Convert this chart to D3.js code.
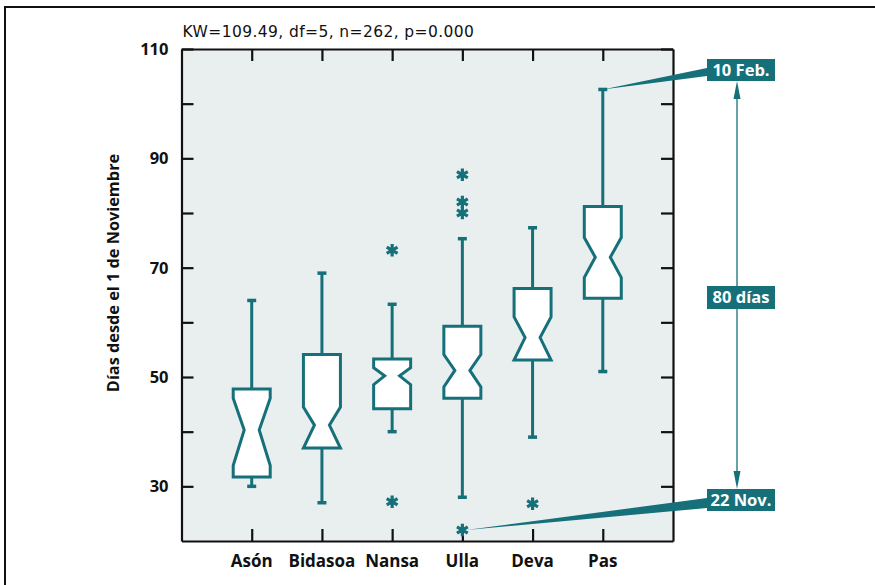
<!DOCTYPE html>
<html lang="es">
  <head>
    <meta charset="utf-8">
    <title>Boxplot ríos</title>
    <script src="https://d3js.org/d3.v7.js"></script>
    <style>
      body { margin: 0; background: #fff; }
      text { font-family: "Open Sans", sans-serif; }
      text.title { font-family: "DejaVu Sans", sans-serif; }
    </style>
  </head>
  <body>
    <script type="text/javascript">

      // data (days since 1 November)
      const rivers    = ["Asón", "Bidasoa", "Nansa", "Ulla", "Deva", "Pas"];
      const whiskerLo = [30, 27, 40, 28, 39, 51];
      const q1        = [31.7, 37, 44.2, 46.1, 53.1, 64.4];
      const notchLo   = [33.8, 37, 48.6, 48.2, 53.1, 68.2];
      const medians   = [40.3, 41.2, 50.2, 51.2, 57.2, 71.9];
      const notchHi   = [46.1, 44.5, 51.7, 54.1, 61.0, 75.5];
      const q3        = [47.8, 54.1, 53.3, 59.3, 66.2, 81.2];
      const whiskerHi = [64, 69, 63.3, 75.3, 77.3, 102.6];
      const outliers  = [[], [], [73.2, 27.2], [87, 82, 80, 22], [26.8], []];
      const yLabels   = [110, 90, 70, 50, 30];
      const yMinor    = [100, 80, 60, 40];
      const title     = "KW=109.49, df=5, n=262, p=0.000";
      const labelTop  = "10 Feb.";
      const labelMid  = "80 días";
      const labelBot  = "22 Nov.";

      const w = 875, h = 585;
      const teal = "#15707a";
      const plot = {left: 181.5, right: 673, top: 49, bottom: 541};

      const x = d3.scalePoint()
        .domain(rivers)
        .range([plot.left, plot.right])
        .padding(1);

      const y = d3.scaleLinear()
        .domain([20, 110])
        .range([plot.bottom, plot.top]);

      const svg = d3.select("body")
        .append("svg")
        .attr("width", w)
        .attr("height", h);

      // outer frame (top and left edges)
      svg.append("path")
        .attr("d", `M5,${h} L5,7 L${w},7`)
        .attr("fill", "none")
        .attr("stroke", "#111")
        .attr("stroke-width", 2);

      // plot background
      svg.append("rect")
        .attr("x", plot.left)
        .attr("y", plot.top)
        .attr("width", plot.right - plot.left)
        .attr("height", plot.bottom - plot.top)
        .attr("fill", "#e9efef");

      // title
      svg.append("text")
        .attr("class", "title")
        .attr("x", plot.left + 1)
        .attr("y", 37)
        .attr("font-size", 15.5)
        .attr("letter-spacing", 0.4)
        .attr("fill", "#111")
        .text(title);

      // axes with inward ticks
      const tickLen = 12;
      const yLeft = d3.axisRight(y).tickValues(yLabels.concat(yMinor)).tickSize(tickLen).tickFormat("");
      const yRight = d3.axisLeft(y).tickValues(yLabels.concat(yMinor)).tickSize(tickLen).tickFormat("");
      const xTop = d3.axisBottom(x).tickSize(tickLen).tickFormat("");
      const xBottom = d3.axisTop(x).tickSize(tickLen).tickFormat("");

      const axes = [
        [yLeft, `translate(${plot.left},0)`],
        [yRight, `translate(${plot.right},0)`],
        [xTop, `translate(0,${plot.top})`],
        [xBottom, `translate(0,${plot.bottom})`]
      ];
      axes.forEach(([ax, tr]) => {
        const g = svg.append("g").attr("transform", tr).call(ax.tickSizeOuter(0));
        g.selectAll("path, line").attr("stroke", "#111").attr("stroke-width", 2.2);
      });

      // y tick labels
      svg.append("g")
        .selectAll("text")
        .data(yLabels)
        .join("text")
        .attr("x", plot.left - 13)
        .attr("y", d => y(d))
        .attr("dy", "0.36em")
        .attr("text-anchor", "end")
        .attr("font-size", 16.5)
        .attr("font-weight", "bold")
        .attr("fill", "#111")
        .text(d => d);

      // x category labels
      svg.append("g")
        .selectAll("text")
        .data(rivers)
        .join("text")
        .attr("x", d => x(d))
        .attr("y", 567)
        .attr("text-anchor", "middle")
        .attr("font-size", 17)
        .attr("font-weight", "bold")
        .attr("fill", "#111")
        .text(d => d);

      // y axis label
      svg.append("text")
        .attr("transform", "translate(119,273) rotate(-90)")
        .attr("text-anchor", "middle")
        .attr("font-size", 16.3)
        .attr("font-weight", "bold")
        .attr("fill", "#111")
        .text("Días desde el 1 de Noviembre");

      // boxes
      const hw = 18.5, nw = 7.5, cap = 4.5;
      const boxes = rivers.map((r, i) => ({
        r: r, lo: whiskerLo[i], q1: q1[i], nLo: notchLo[i], med: medians[i],
        nHi: notchHi[i], q3: q3[i], hi: whiskerHi[i], out: outliers[i]
      }));

      const g = svg.append("g");

      boxes.forEach(b => {
        const cx = x(b.r);
        // whiskers
        g.append("line")
          .attr("x1", cx).attr("x2", cx)
          .attr("y1", y(b.q3)).attr("y2", y(b.hi))
          .attr("stroke", teal).attr("stroke-width", 3);
        g.append("line")
          .attr("x1", cx).attr("x2", cx)
          .attr("y1", y(b.q1)).attr("y2", y(b.lo))
          .attr("stroke", teal).attr("stroke-width", 3);
        // caps
        [b.hi, b.lo].forEach(v => {
          g.append("line")
            .attr("x1", cx - cap).attr("x2", cx + cap)
            .attr("y1", y(v)).attr("y2", y(v))
            .attr("stroke", teal).attr("stroke-width", 3.5);
        });
        // notched box
        const pts = [
          [cx - hw, b.q3], [cx + hw, b.q3], [cx + hw, b.nHi], [cx + nw, b.med],
          [cx + hw, b.nLo], [cx + hw, b.q1], [cx - hw, b.q1], [cx - hw, b.nLo],
          [cx - nw, b.med], [cx - hw, b.nHi]
        ];
        g.append("path")
          .attr("d", d3.line().x(p => p[0]).y(p => y(p[1]))(pts) + "Z")
          .attr("fill", "#fff")
          .attr("stroke", teal)
          .attr("stroke-width", 3)
          .attr("stroke-linejoin", "miter");
        // outliers
        b.out.forEach(v => {
          g.append("path")
            .attr("transform", `translate(${cx},${y(v)})`)
            .attr("d", d3.symbol(d3.symbolAsterisk, 110)())
            .attr("fill", "none")
            .attr("stroke", teal)
            .attr("stroke-width", 3.2);
        });
      });

      // annotations
      const lbl = {x: 707, w: 68, h: 22};
      const topY = 59, midY = 286, botY = 489;

      // wedge pointers
      const pasHi = [x("Pas"), y(whiskerHi[5])];
      const ullaLo = [x("Ulla"), y(22)];
      svg.append("path")
        .attr("d", `M${pasHi[0]},${pasHi[1]} L${lbl.x},${topY + 9} L${lbl.x},${topY + 17} Z`)
        .attr("fill", teal);
      svg.append("path")
        .attr("d", `M${ullaLo[0] + 4},${ullaLo[1]} L${lbl.x},${botY + 9} L${lbl.x},${botY + 19} Z`)
        .attr("fill", teal);

      // double arrow
      const ax = 737;
      svg.append("line")
        .attr("x1", ax).attr("x2", ax)
        .attr("y1", topY + lbl.h + 10).attr("y2", botY - 10)
        .attr("stroke", teal).attr("stroke-width", 1.3);
      svg.append("path")
        .attr("d", `M${ax},${topY + lbl.h} L${ax - 3.5},${topY + lbl.h + 18} L${ax + 3.5},${topY + lbl.h + 18} Z`)
        .attr("fill", teal);
      svg.append("path")
        .attr("d", `M${ax},${botY} L${ax - 3.5},${botY - 18} L${ax + 3.5},${botY - 18} Z`)
        .attr("fill", teal);

      [[labelTop, topY], [labelMid, midY], [labelBot, botY]].forEach(([t, ty]) => {
        svg.append("rect")
          .attr("x", lbl.x).attr("y", ty)
          .attr("width", lbl.w).attr("height", lbl.h + (t === labelMid ? 1 : 0))
          .attr("fill", teal);
        svg.append("text")
          .attr("x", lbl.x + lbl.w / 2)
          .attr("y", ty + lbl.h / 2)
          .attr("dy", "0.36em")
          .attr("text-anchor", "middle")
          .attr("font-size", 16.5)
          .attr("font-weight", "bold")
          .attr("fill", "#fff")
          .text(t);
      });

    </script>
  </body>
</html>
